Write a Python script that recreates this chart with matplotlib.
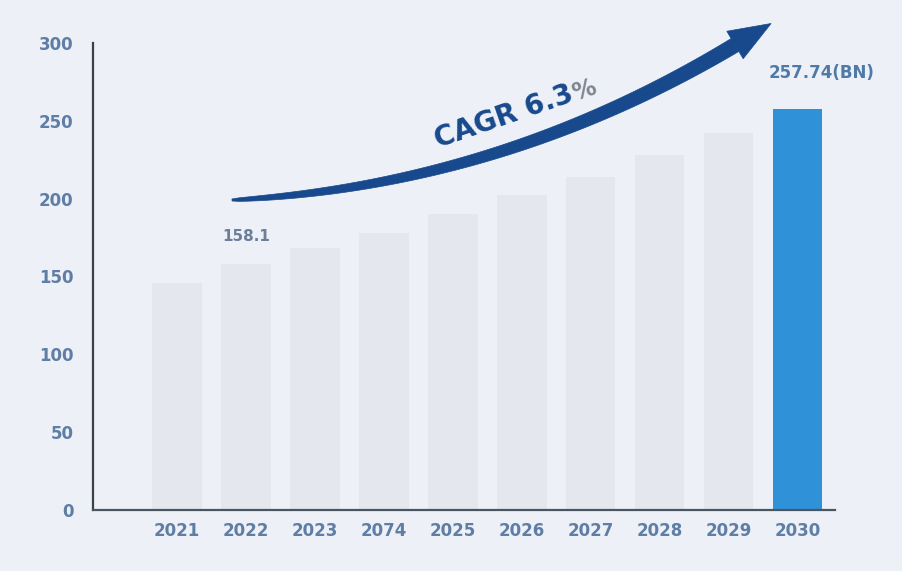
import numpy as np
import matplotlib.pyplot as plt
from matplotlib.patches import Polygon

years = ['2021', '2022', '2023', '2074', '2025', '2026', '2027', '2028', '2029', '2030']
values = [146, 158.1, 168, 178, 190, 202, 214, 228, 242, 257.74]

bg = '#edf0f7'
tick_col = '#5f7ea5'
navy = '#17498c'

fig = plt.figure(figsize=(9.03, 5.71), dpi=100)
fig.patch.set_facecolor(bg)
ax = fig.add_axes([0.103, 0.107, 0.822, 0.818])
ax.set_facecolor(bg)

x = np.arange(len(years))
colors = ['#e5e7ef'] * (len(years) - 1) + ['#2f91d8']
ax.bar(x, values, width=0.72, color=colors, zorder=2)

ax.set_xlim(-1.22, 9.55)
ax.set_ylim(0, 300)
ax.set_yticks(range(0, 301, 50))
ax.set_xticks(x)
ax.set_xticklabels(years)
for lab in ax.get_xticklabels() + ax.get_yticklabels():
    lab.set_fontweight('bold')
    lab.set_color(tick_col)
    lab.set_fontsize(12)
ax.tick_params(length=0, pad=9)
ax.tick_params(axis='y', pad=14)

for s in ['top', 'right']:
    ax.spines[s].set_visible(False)
ax.spines['left'].set_color('#3a3f48')
ax.spines['left'].set_linewidth(1.6)
ax.spines['bottom'].set_color('#4a5562')
ax.spines['bottom'].set_linewidth(1.6)

# value labels for first and last
ax.text(x[1], values[1] + 13, '158.1', color='#6a7f9a', fontsize=11,
        fontweight='bold', ha='center', va='bottom')
ax.text(x[-1] + 0.35, values[-1] + 17, '257.74(BN)', color='#4f7aa8', fontsize=12,
        fontweight='bold', ha='center', va='bottom')

# tapered curved arrow (in pixel space, top-left origin)
W, H = 903, 571
p0 = np.array([232, 200.0])
p1 = np.array([500, 186.0])
p2 = np.array([735, 45.0])
t = np.linspace(0, 1, 80)
pts = ((1 - t) ** 2)[:, None] * p0 + (2 * (1 - t) * t)[:, None] * p1 + (t ** 2)[:, None] * p2
d = np.gradient(pts, axis=0)
n = np.stack([-d[:, 1], d[:, 0]], axis=1)
n /= np.linalg.norm(n, axis=1)[:, None]
w = 1.0 + 6.5 * np.sqrt(t)
upper = pts + n * w[:, None]
lower = pts - n * w[:, None]
tang = d[-1] / np.linalg.norm(d[-1])
nn = n[-1]
tip = p2 + tang * 42
hb1 = p2 + nn * 16
hb2 = p2 - nn * 16
poly = np.vstack([upper, hb1, tip, hb2, lower[::-1]])
poly_fig = np.column_stack([poly[:, 0] / W, 1 - poly[:, 1] / H])
fig.patches.append(Polygon(poly_fig, closed=True, facecolor=navy, edgecolor=navy,
                           lw=0.5, transform=fig.transFigure, zorder=5))

# CAGR label, percent sign in grey
anchor = (575 / W, 1 - 101 / H)
fig.text(*anchor, 'CAGR 6.3', color=navy, fontsize=20, fontweight='bold',
         rotation=19, rotation_mode='anchor', ha='right', va='baseline')
fig.text(*anchor, '%', color='#7d8590', fontsize=17, fontweight='bold',
         rotation=19, rotation_mode='anchor', ha='left', va='baseline')

fig.savefig('out.png', dpi=100, facecolor=bg)
